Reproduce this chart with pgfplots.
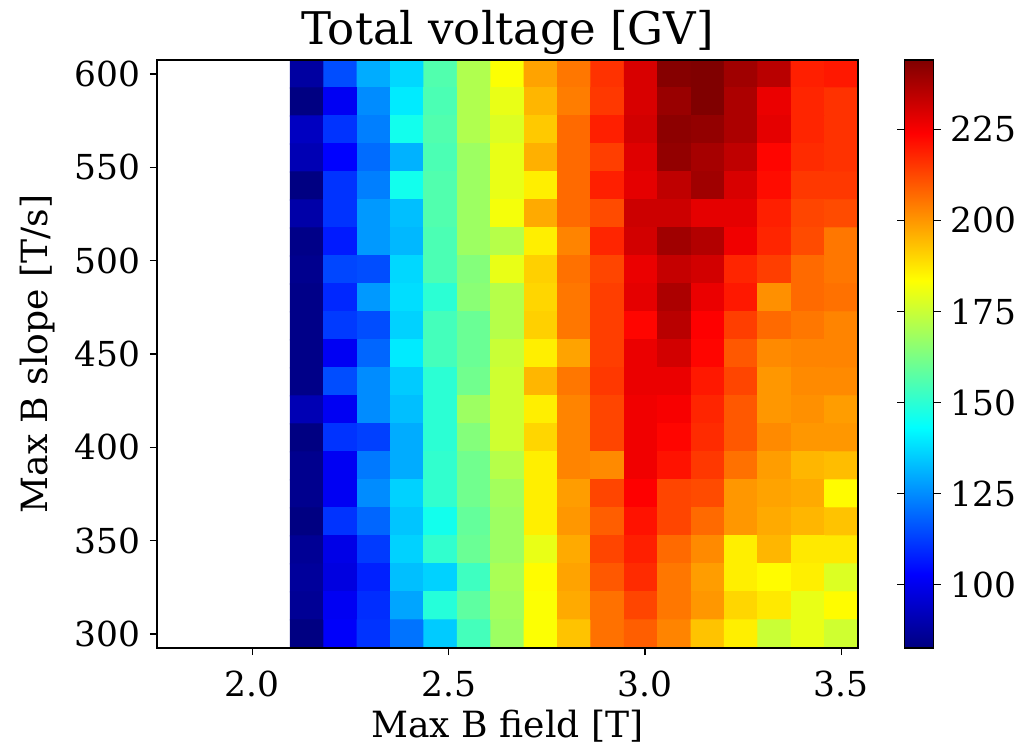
\documentclass[border=0pt]{standalone}
\usepackage{fontspec}
\setmainfont{DejaVu Serif}
\usepackage{pgfplots}
\pgfplotsset{compat=1.18}
\begin{document}
\begin{tikzpicture}
\begin{axis}[
  scale only axis, width=252.4pt, height=211.7pt,
  xmin=1.7575, xmax=3.5425, ymin=292.5, ymax=607.5,
  enlargelimits=false, axis on top, clip=false,
  xtick={2.0,2.5,3.0,3.5}, ytick={300,350,...,600},
  xticklabel={\pgfmathprintnumber[fixed,fixed zerofill,precision=1,assume math mode=true]{\tick}},
  /pgf/number format/assume math mode=true,
  tick align=outside, xtick pos=bottom, ytick pos=left,
  major tick length=2.6pt,
  every tick/.style={black, line width=0.45pt},
  axis line style={line width=0.45pt},
  tick label style={font=\fontsize{12.4}{14}\selectfont},
  x tick label style={yshift=-2pt},
  label style={font=\fontsize{13}{15}\selectfont},
  xlabel style={at={(axis description cs:0.5,0)}, anchor=base, yshift=-32.2pt},
  title={Total voltage [GV]},
  title style={font=\fontsize{16.2}{19}\selectfont, at={(axis description cs:0.5,1)}, anchor=base, yshift=-0.6pt},
  xlabel={Max B field [T]}, ylabel={Max B slope [T/s]},
  colormap/jet,
  point meta min=82.7, point meta max=244,
  colorbar,
  colorbar style={
    at={(parent axis.north east)}, anchor=north west, xshift=8.2pt,
    width=10.4pt,
    ytick={100,125,...,225},
    tick align=outside, major tick length=2.6pt,
    yticklabel style={font=\fontsize{12.4}{14}\selectfont},
    /pgf/number format/assume math mode=true,
    axis line style={line width=0.45pt},
  },
]
\addplot[matrix plot*, mesh/cols=17, point meta=explicit] coordinates {
(2.140,600) [88] (2.225,600) [115] (2.310,600) [130] (2.395,600) [137] (2.480,600) [156] (2.565,600) [171] (2.650,600) [183] (2.735,600) [198] (2.820,600) [205] (2.905,600) [216] (2.990,600) [230] (3.075,600) [243] (3.160,600) [244] (3.245,600) [239] (3.330,600) [235] (3.415,600) [219] (3.500,600) [220]

(2.140,585) [83] (2.225,585) [101] (2.310,585) [125] (2.395,585) [140] (2.480,585) [155] (2.565,585) [171] (2.650,585) [180] (2.735,585) [195] (2.820,585) [204] (2.905,585) [215] (2.990,585) [230] (3.075,585) [240] (3.160,585) [244] (3.245,585) [237] (3.330,585) [227] (3.415,585) [218] (3.500,585) [216]

(2.140,570) [93] (2.225,570) [111] (2.310,570) [123] (2.395,570) [146] (2.480,570) [156] (2.565,570) [171] (2.650,570) [178] (2.735,570) [192] (2.820,570) [207] (2.905,570) [219] (2.990,570) [231] (3.075,570) [242] (3.160,570) [241] (3.245,570) [237] (3.330,570) [228] (3.415,570) [218] (3.500,570) [216]

(2.140,555) [91] (2.225,555) [103] (2.310,555) [120] (2.395,555) [131] (2.480,555) [155] (2.565,555) [168] (2.650,555) [180] (2.735,555) [196] (2.820,555) [207] (2.905,555) [214] (2.990,555) [229] (3.075,555) [241] (3.160,555) [238] (3.245,555) [234] (3.330,555) [223] (3.415,555) [217] (3.500,555) [216]

(2.140,540) [83] (2.225,540) [111] (2.310,540) [123] (2.395,540) [146] (2.480,540) [156] (2.565,540) [168] (2.650,540) [180] (2.735,540) [186] (2.820,540) [207] (2.905,540) [219] (2.990,540) [228] (3.075,540) [234] (3.160,540) [239] (3.245,540) [230] (3.330,540) [222] (3.415,540) [215] (3.500,540) [215]

(2.140,525) [89] (2.225,525) [111] (2.310,525) [127] (2.395,525) [133] (2.480,525) [156] (2.565,525) [168] (2.650,525) [182] (2.735,525) [197] (2.820,525) [207] (2.905,525) [212] (2.990,525) [232] (3.075,525) [232] (3.160,525) [228] (3.245,525) [228] (3.330,525) [219] (3.415,525) [213] (3.500,525) [212]

(2.140,510) [84] (2.225,510) [107] (2.310,510) [127] (2.395,510) [132] (2.480,510) [155] (2.565,510) [168] (2.650,510) [172] (2.735,510) [186] (2.820,510) [203] (2.905,510) [218] (2.990,510) [231] (3.075,510) [239] (3.160,510) [236] (3.245,510) [226] (3.330,510) [218] (3.415,510) [212] (3.500,510) [205]

(2.140,495) [85] (2.225,495) [114] (2.310,495) [115] (2.395,495) [137] (2.480,495) [155] (2.565,495) [164] (2.650,495) [180] (2.735,495) [191] (2.820,495) [206] (2.905,495) [213] (2.990,495) [227] (3.075,495) [233] (3.160,495) [231] (3.245,495) [218] (3.330,495) [214] (3.415,495) [207] (3.500,495) [205]

(2.140,480) [84] (2.225,480) [109] (2.310,480) [127] (2.395,480) [138] (2.480,480) [150] (2.565,480) [165] (2.650,480) [172] (2.735,480) [190] (2.820,480) [205] (2.905,480) [214] (2.990,480) [228] (3.075,480) [237] (3.160,480) [227] (3.245,480) [220] (3.330,480) [201] (3.415,480) [207] (3.500,480) [206]

(2.140,465) [84] (2.225,465) [112] (2.310,465) [115] (2.395,465) [136] (2.480,465) [154] (2.565,465) [160] (2.650,465) [172] (2.735,465) [191] (2.820,465) [205] (2.905,465) [214] (2.990,465) [223] (3.075,465) [235] (3.160,465) [224] (3.245,465) [214] (3.330,465) [207] (3.415,465) [205] (3.500,465) [203]

(2.140,450) [84] (2.225,450) [101] (2.310,450) [119] (2.395,450) [140] (2.480,450) [154] (2.565,450) [160] (2.650,450) [175] (2.735,450) [186] (2.820,450) [198] (2.905,450) [214] (2.990,450) [227] (3.075,450) [231] (3.160,450) [223] (3.245,450) [210] (3.330,450) [202] (3.415,450) [203] (3.500,450) [203]

(2.140,435) [84] (2.225,435) [115] (2.310,435) [125] (2.395,435) [135] (2.480,435) [150] (2.565,435) [161] (2.650,435) [176] (2.735,435) [195] (2.820,435) [205] (2.905,435) [215] (2.990,435) [227] (3.075,435) [227] (3.160,435) [220] (3.245,435) [213] (3.330,435) [200] (3.415,435) [202] (3.500,435) [202]

(2.140,420) [91] (2.225,420) [101] (2.310,420) [125] (2.395,420) [133] (2.480,420) [150] (2.565,420) [168] (2.650,420) [176] (2.735,420) [186] (2.820,420) [203] (2.905,420) [213] (2.990,420) [226] (3.075,420) [225] (3.160,420) [218] (3.245,420) [210] (3.330,420) [200] (3.415,420) [201] (3.500,420) [199]

(2.140,405) [83] (2.225,405) [111] (2.310,405) [113] (2.395,405) [130] (2.480,405) [150] (2.565,405) [164] (2.650,405) [176] (2.735,405) [190] (2.820,405) [203] (2.905,405) [213] (2.990,405) [226] (3.075,405) [223] (3.160,405) [217] (3.245,405) [210] (3.330,405) [202] (3.415,405) [200] (3.500,405) [200]

(2.140,390) [85] (2.225,390) [101] (2.310,390) [122] (2.395,390) [130] (2.480,390) [151] (2.565,390) [161] (2.650,390) [172] (2.735,390) [186] (2.820,390) [203] (2.905,390) [202] (2.990,390) [226] (3.075,390) [221] (3.160,390) [215] (3.245,390) [206] (3.330,390) [199] (3.415,390) [195] (3.500,390) [194]

(2.140,375) [85] (2.225,375) [101] (2.310,375) [125] (2.395,375) [136] (2.480,375) [151] (2.565,375) [161] (2.650,375) [169] (2.735,375) [186] (2.820,375) [199] (2.905,375) [213] (2.990,375) [224] (3.075,375) [213] (3.160,375) [212] (3.245,375) [200] (3.330,375) [198] (3.415,375) [197] (3.500,375) [184]

(2.140,360) [83] (2.225,360) [111] (2.310,360) [119] (2.395,360) [134] (2.480,360) [146] (2.565,360) [159] (2.650,360) [168] (2.735,360) [186] (2.820,360) [200] (2.905,360) [209] (2.990,360) [221] (3.075,360) [213] (3.160,360) [207] (3.245,360) [200] (3.330,360) [197] (3.415,360) [195] (3.500,360) [193]

(2.140,345) [86] (2.225,345) [99] (2.310,345) [112] (2.395,345) [136] (2.480,345) [151] (2.565,345) [160] (2.650,345) [168] (2.735,345) [180] (2.820,345) [197] (2.905,345) [213] (2.990,345) [219] (3.075,345) [207] (3.160,345) [202] (3.245,345) [186] (3.330,345) [195] (3.415,345) [187] (3.500,345) [187]

(2.140,330) [87] (2.225,330) [98] (2.310,330) [108] (2.395,330) [133] (2.480,330) [136] (2.565,330) [153] (2.650,330) [170] (2.735,330) [184] (2.820,330) [198] (2.905,330) [210] (2.990,330) [217] (3.075,330) [205] (3.160,330) [199] (3.245,330) [186] (3.330,330) [184] (3.415,330) [186] (3.500,330) [178]

(2.140,315) [86] (2.225,315) [101] (2.310,315) [110] (2.395,315) [129] (2.480,315) [149] (2.565,315) [158] (2.650,315) [169] (2.735,315) [183] (2.820,315) [197] (2.905,315) [206] (2.990,315) [213] (3.075,315) [205] (3.160,315) [200] (3.245,315) [190] (3.330,315) [187] (3.415,315) [180] (3.500,315) [184]

(2.140,300) [83] (2.225,300) [102] (2.310,300) [111] (2.395,300) [121] (2.480,300) [135] (2.565,300) [154] (2.650,300) [168] (2.735,300) [183] (2.820,300) [193] (2.905,300) [206] (2.990,300) [209] (3.075,300) [203] (3.160,300) [193] (3.245,300) [186] (3.330,300) [175] (3.415,300) [180] (3.500,300) [176]
};
\path (rel axis cs:-0.224,-0.1667) rectangle (rel axis cs:1.2525,1.102);
\end{axis}
\end{tikzpicture}
\end{document}
